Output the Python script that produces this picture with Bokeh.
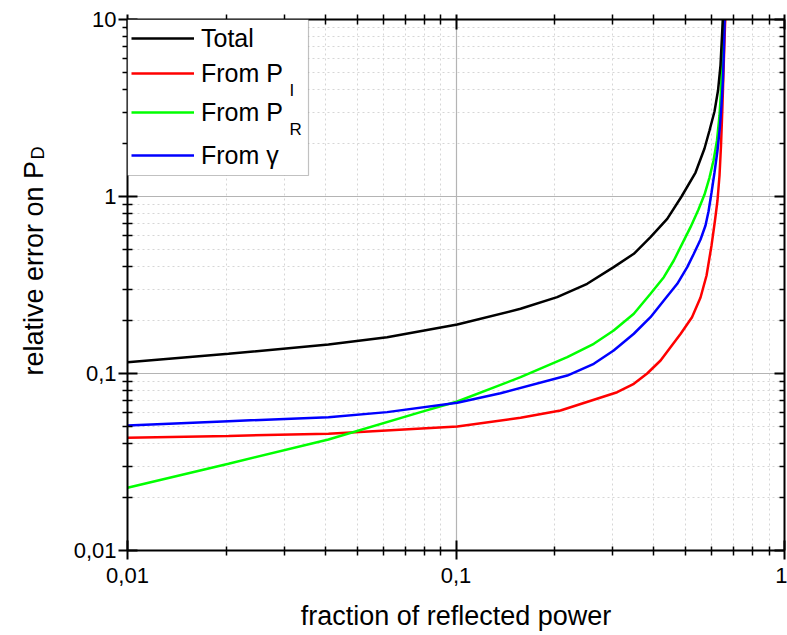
import numpy as np
from bokeh.plotting import figure
from bokeh.layouts import row
from bokeh.models import (Range1d, LogAxis, FixedTicker, CustomJSTickFormatter,
                          Legend, LegendItem, Label, BoxAnnotation)
from bokeh.embed import file_html
from bokeh.resources import INLINE

# ---------------- data ----------------
total_x = [0.0100, 0.0203, 0.0409, 0.0617, 0.1009, 0.1572, 0.2032, 0.2508, 0.302, 0.3478,
           0.3909, 0.4395, 0.4860, 0.5360, 0.5708, 0.5911, 0.6122, 0.6275, 0.6385, 0.6476,
           0.6490]
total_y = [0.1158, 0.1292, 0.1458, 0.1603, 0.189, 0.232, 0.270, 0.3212, 0.399, 0.4747,
           0.589, 0.748, 1.0, 1.366, 1.867, 2.36, 3.02, 3.97, 5.50, 9.25,
           10.0]

pi_x = [0.0100, 0.0203, 0.0409, 0.1009, 0.1572, 0.2080, 0.3095, 0.3478, 0.3819, 0.4195,
        0.4498, 0.4830, 0.5229, 0.5551, 0.5790, 0.5996, 0.6143, 0.6252, 0.6341, 0.6408,
        0.6466, 0.6530, 0.6590, 0.6604]
pi_y = [0.0433, 0.0444, 0.0457, 0.0502, 0.0562, 0.0618, 0.0784, 0.0875, 0.100, 0.1184,
        0.1408, 0.1677, 0.2080, 0.2688, 0.358, 0.529, 0.732, 0.949, 1.314, 1.942,
        3.06, 5.50, 9.25, 10.0]

pr_x = [0.0100, 0.0203, 0.0409, 0.0780, 0.1009, 0.1572, 0.2181, 0.2627, 0.302, 0.3478,
        0.3909, 0.4292, 0.4603, 0.5175, 0.5472, 0.5708, 0.5911, 0.6080, 0.6230, 0.6341,
        0.6408, 0.6462, 0.6498, 0.6507]
pr_y = [0.0226, 0.0309, 0.0424, 0.0605, 0.0695, 0.0953, 0.1236, 0.1472, 0.1749, 0.2175,
        0.282, 0.350, 0.435, 0.671, 0.845, 1.026, 1.280, 1.597, 2.072, 2.869,
        3.97, 6.26, 9.25, 10.0]

gam_x = [0.0100, 0.0203, 0.0409, 0.0617, 0.1009, 0.1366, 0.2181, 0.2627, 0.302, 0.3478,
         0.3909, 0.4292, 0.4716, 0.5057, 0.5296, 0.5551, 0.5748, 0.5870, 0.5996, 0.6122,
         0.6252, 0.6353, 0.6429, 0.6494, 0.6539, 0.6568, 0.6572]
gam_y = [0.0508, 0.0538, 0.0566, 0.0605, 0.0683, 0.0774, 0.0974, 0.1134, 0.1349, 0.1677,
         0.2080, 0.2585, 0.3212, 0.399, 0.4747, 0.5716, 0.686, 0.823, 1.053, 1.366,
         1.819, 2.423, 3.267, 4.522, 6.68, 9.25, 10.0]

series_names = ["Total", "From P", "From P", "From \u03b3"]
series_subs = ["", "I", "R", ""]
series_colors = ["#000000", "#ff0000", "#00ff00", "#0000ff"]

x_major = [0.01, 0.1, 1.0]
x_tick_labels = ["0,01", "0,1", "1"]
y_major = [0.01, 0.1, 1.0, 10.0]
y_tick_labels = ["0,01", "0,1", "1", "10"]
x_title = "fraction of reflected power"
y_title = "relative error on P"
y_title_sub = "D"

FONT = "Liberation Sans"

x_minor = [m * 10.0 ** k for k in (-2, -1) for m in range(2, 10)]
y_minor = [m * 10.0 ** k for k in (-2, -1, 0) for m in range(2, 10)]

H = 635
WL = 60           # strip that carries the y-axis title
W = 787 - WL

p = figure(width=W, height=H, x_axis_type="log", y_axis_type="log",
           x_range=Range1d(0.01, 1.0), y_range=Range1d(0.01, 10.0),
           output_backend="svg", toolbar_location=None,
           min_border_left=127 - WL, min_border_right=3, min_border_top=19,
           min_border_bottom=85)
p.outline_line_color = None
p.background_fill_color = "white"
p.border_fill_color = "white"

xt = FixedTicker(ticks=x_major, minor_ticks=x_minor)
yt = FixedTicker(ticks=y_major, minor_ticks=y_minor)

fmt_code = """
for (let i = 0; i < majors.length; i++) {
  if (Math.abs(Math.log10(tick) - Math.log10(majors[i])) < 1e-6) return names[i];
}
return "";
"""
xfmt = CustomJSTickFormatter(args=dict(majors=x_major, names=x_tick_labels), code=fmt_code)
yfmt = CustomJSTickFormatter(args=dict(majors=y_major, names=y_tick_labels), code=fmt_code)
nofmt = CustomJSTickFormatter(code="return '';")


def style_axis(ax, tin, tout, mtin, mtout, show_labels, standoff=6):
    ax.axis_line_width = 2
    ax.axis_line_color = "black"
    ax.major_tick_line_width = 2
    ax.minor_tick_line_width = 1.5
    ax.major_tick_line_color = "black"
    ax.minor_tick_line_color = "black"
    ax.major_tick_in = tin
    ax.major_tick_out = tout
    ax.minor_tick_in = mtin
    ax.minor_tick_out = mtout
    if show_labels:
        ax.major_label_text_font = FONT
        ax.major_label_text_font_size = "22px"
        ax.major_label_text_color = "black"
        ax.major_label_standoff = standoff
    else:
        ax.major_label_text_font_size = "1px"
        ax.major_label_text_color = None
        ax.major_label_standoff = 0


xa = p.xaxis[0]
xa.ticker = xt
xa.formatter = xfmt
style_axis(xa, 10, 9, 4, 5, True, standoff=8)
xa.axis_label = x_title
xa.axis_label_text_font = FONT
xa.axis_label_text_font_size = "27px"
xa.axis_label_text_font_style = "normal"
xa.axis_label_text_color = "black"
xa.axis_label_standoff = 15

ya = p.yaxis[0]
ya.ticker = yt
ya.formatter = yfmt
style_axis(ya, 10, 9, 5, 5, True, standoff=2)

top = LogAxis(ticker=xt, formatter=nofmt)
style_axis(top, 10, 5, 5, 5, False)
p.add_layout(top, "above")
right = LogAxis(ticker=yt, formatter=nofmt)
style_axis(right, 10, 0, 5, 0, False)
p.add_layout(right, "right")

for g, t in ((p.xgrid[0], xt), (p.ygrid[0], yt)):
    g.ticker = t
    g.grid_line_color = "#b4b4b4"
    g.grid_line_width = 1.2
    g.minor_grid_line_color = "#d6d6d6"
    g.minor_grid_line_dash = "2 3"
    g.minor_grid_line_width = 1

r_pi = p.line(pi_x, pi_y, line_color=series_colors[1], line_width=2.5)
r_pr = p.line(pr_x, pr_y, line_color=series_colors[2], line_width=2.5)
r_gam = p.line(gam_x, gam_y, line_color=series_colors[3], line_width=2.5)
r_tot = p.line(total_x, total_y, line_color=series_colors[0], line_width=2.5)
renderers = [r_tot, r_pi, r_pr, r_gam]

# ---- legend: frame-relative screen units (origin bottom-left of frame) ----
frame_h = 531
box = BoxAnnotation(left=0, right=181, top=frame_h, bottom=frame_h - 156,
                    left_units="screen", right_units="screen",
                    top_units="screen", bottom_units="screen",
                    fill_color="white", fill_alpha=1.0,
                    line_color="#333333", line_width=1.2)
p.add_layout(box)

item_centers = [19, 54, 93, 136]  # distance from frame top
for name, sub, rend, c in zip(series_names, series_subs, renderers, item_centers):
    leg = Legend(items=[LegendItem(label=name, renderers=[rend])],
                 location=(4, frame_h - c - 15), padding=0, margin=0, spacing=0,
                 border_line_color=None, background_fill_alpha=0,
                 glyph_width=63, glyph_height=30, label_height=30, label_standoff=7,
                 label_text_font=FONT, label_text_font_size="25px",
                 label_text_color="black")
    p.add_layout(leg)
    if sub:
        p.add_layout(Label(x=162, y=frame_h - c - 17, x_units="screen", y_units="screen",
                           text=sub, text_font=FONT, text_font_size="17px",
                           text_baseline="alphabetic", text_align="left",
                           text_color="black"))

# ---- strip on the left carrying the y-axis title (with its subscript) ----
pt = figure(width=WL, height=H, x_range=Range1d(0, 1), y_range=Range1d(0, 1),
            output_backend="svg", toolbar_location=None,
            x_axis_location=None, y_axis_location=None, min_border=0)
pt.outline_line_color = None
pt.grid.visible = False
pt.background_fill_color = "white"
pt.border_fill_color = "white"
main_start = 175          # from the bottom of the (aligned) frame
pt.add_layout(Label(x=33, y=main_start, x_units="screen", y_units="screen", text=y_title,
                    angle=np.pi / 2, text_font=FONT, text_font_size="27px",
                    text_baseline="alphabetic", text_align="left", text_color="black"))
pt.add_layout(Label(x=37, y=main_start + 216, x_units="screen", y_units="screen",
                    text=y_title_sub, angle=np.pi / 2, text_font=FONT,
                    text_font_size="18px", text_baseline="alphabetic",
                    text_align="left", text_color="black"))

layout = row(pt, p)
open("out.html", "w").write(file_html(layout, INLINE))
